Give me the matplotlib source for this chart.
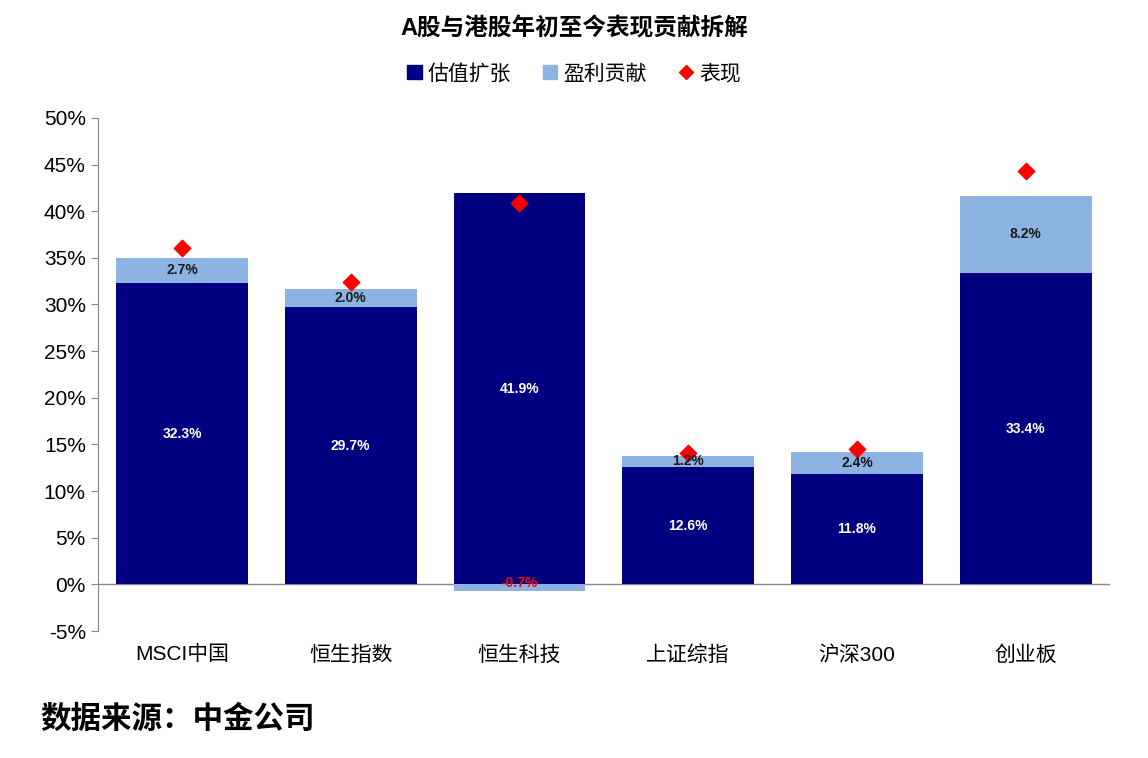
import matplotlib.pyplot as plt
from matplotlib.lines import Line2D
from matplotlib.patches import Patch

plt.rcParams['font.family'] = ['Liberation Sans', 'Noto Sans CJK SC', 'DejaVu Sans']

categories = ["MSCI中国", "恒生指数", "恒生科技", "上证综指", "沪深300", "创业板"]
valuation = [32.3, 29.7, 41.9, 12.6, 11.8, 33.4]
earnings = [2.7, 2.0, -0.7, 1.2, 2.4, 8.2]
performance = [36.0, 32.4, 40.9, 14.1, 14.5, 44.3]

navy = "#000080"
light = "#8DB3E2"

fig = plt.figure(figsize=(11.48, 7.58), dpi=100)
ax = fig.add_axes([0.085, 0.1675, 0.882, 0.677])

x = list(range(len(categories)))
w = 0.78
ax.bar(x, valuation, width=w, color=navy, zorder=2)
bottoms = [v if e >= 0 else 0 for v, e in zip(valuation, earnings)]
ax.bar(x, earnings, width=w, bottom=bottoms, color=light, zorder=2)
ax.scatter(x, performance, marker="D", s=70, color="red", zorder=3)

for i in x:
    ax.text(i, valuation[i] / 2, f"{valuation[i]:.1f}%", color="white",
            ha="center", va="center", fontsize=10, fontweight="bold", zorder=4)
    if earnings[i] >= 0:
        ax.text(i, valuation[i] + earnings[i] / 2, f"{earnings[i]:.1f}%", color="#1a1a1a",
                ha="center", va="center", fontsize=10, fontweight="bold", zorder=4)
    else:
        ax.text(i, 0.1, f"{earnings[i]:.1f}%", color="red",
                ha="center", va="center", fontsize=10, fontweight="bold", zorder=4)

ax.set_ylim(-5, 50)
ax.set_xlim(-0.5, len(categories) - 0.5)
ax.set_yticks(range(-5, 51, 5))
ax.set_yticklabels([f"{t}%" for t in range(-5, 51, 5)], fontsize=15)
ax.set_xticks([])
for i, c in enumerate(categories):
    ax.text(i, -6.5, c, ha="center", va="top", fontsize=15)
ax.axhline(0, color="#888888", lw=1, zorder=1)
for s in ["top", "right", "bottom"]:
    ax.spines[s].set_visible(False)
ax.spines["left"].set_color("#888888")
ax.tick_params(axis="y", direction="out", color="#888888", length=5)

fig.text(0.5, 0.962, "A股与港股年初至今表现贡献拆解", ha="center", va="center",
         fontsize=17, fontweight="bold")
handles = [Patch(color=navy, label="估值扩张"), Patch(color=light, label="盈利贡献"),
           Line2D([], [], marker="D", color="red", lw=0, markersize=7, label="表现")]
fig.legend(handles=handles, loc="center", bbox_to_anchor=(0.5, 0.903), ncol=3,
           frameon=False, fontsize=15, handlelength=0.7, handletextpad=0.3, columnspacing=1.5)
fig.text(0.035, 0.05, "数据来源：中金公司", ha="left", va="center", fontsize=22, fontweight="bold")

fig.savefig("out.png", dpi=100)
